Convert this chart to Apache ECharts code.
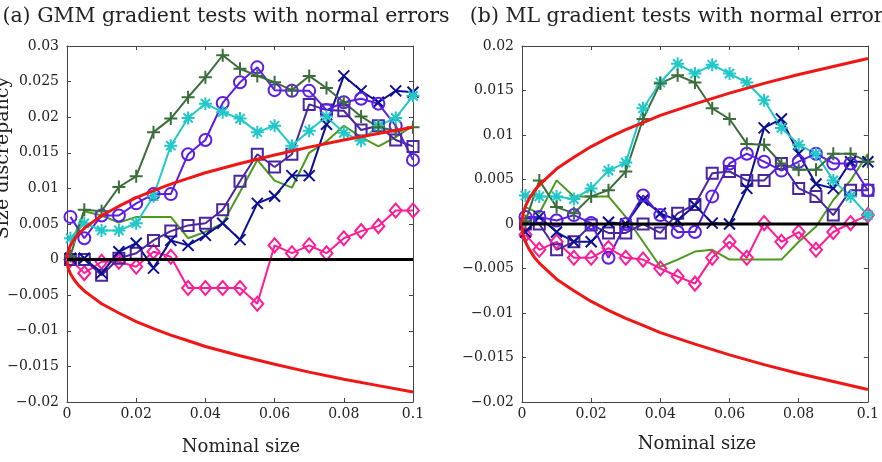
<!DOCTYPE html>
<html>
<head>
<meta charset="utf-8">
<script src="https://cdn.jsdelivr.net/npm/echarts@6/dist/echarts.min.js"></script>
<style>html,body{margin:0;padding:0;background:#fff}#c{width:882px;height:462px}</style>
</head>
<body>
<div id="c"></div>
<script>
// ---------- data ----------
const xs = [0.001, 0.005, 0.01, 0.015, 0.02, 0.025, 0.03, 0.035, 0.04, 0.045, 0.05,
            0.055, 0.06, 0.065, 0.07, 0.075, 0.08, 0.085, 0.09, 0.095, 0.1];

// (a) GMM gradient tests
const gmmPlus    = [0.0005, 0.007, 0.0068, 0.0102, 0.0117, 0.0179, 0.0198, 0.0228, 0.0256, 0.0287, 0.0268, 0.0258, 0.0249, 0.0238, 0.0258, 0.0241, 0.0221, 0.0201, 0.0186, 0.0181, 0.0186];
const gmmStar    = [0.003, 0.0051, 0.0041, 0.0041, 0.0051, 0.0089, 0.016, 0.0199, 0.0219, 0.0207, 0.0198, 0.0179, 0.0188, 0.016, 0.0181, 0.0201, 0.0178, 0.0167, 0.0188, 0.0199, 0.023];
const gmmCircle  = [0.006, 0.003, 0.0062, 0.0062, 0.0079, 0.0092, 0.0092, 0.0148, 0.0168, 0.022, 0.0249, 0.027, 0.0238, 0.0237, 0.0237, 0.021, 0.0221, 0.0226, 0.0219, 0.0188, 0.014];
const gmmCross   = [0.0002, 0.0002, -0.0019, 0.0011, 0.0023, -0.0012, 0.0027, 0.002, 0.0034, 0.0051, 0.0028, 0.0079, 0.0089, 0.0118, 0.0118, 0.019, 0.0258, 0.0237, 0.0221, 0.0237, 0.0235];
const gmmSquare  = [0.0, 0.0, -0.0022, 0.0002, 0.0009, 0.0027, 0.004, 0.0048, 0.0051, 0.007, 0.011, 0.0148, 0.013, 0.0148, 0.0218, 0.021, 0.0209, 0.0182, 0.0188, 0.0168, 0.0159];
const gmmGreen   = [0.002, 0.0068, 0.0062, 0.0052, 0.006, 0.006, 0.006, 0.003, 0.0039, 0.0051, 0.0095, 0.014, 0.0111, 0.0101, 0.015, 0.0166, 0.0188, 0.0172, 0.0159, 0.0172, 0.0188];
const gmmDiamond = [0.0, -0.0019, -0.0003, -0.0003, -0.001, 0.0011, 0.0004, -0.004, -0.004, -0.004, -0.004, -0.0062, 0.002, 0.0009, 0.002, 0.0009, 0.003, 0.004, 0.0047, 0.0069, 0.0069];

// (b) ML gradient tests
const mlPlus    = [0.0003, 0.0049, 0.0019, 0.0012, 0.0031, 0.0038, 0.0059, 0.0118, 0.0158, 0.0167, 0.0159, 0.013, 0.0118, 0.009, 0.0089, 0.0068, 0.0061, 0.0061, 0.0079, 0.0079, 0.007];
const mlStar    = [0.0032, 0.0031, 0.0031, 0.0028, 0.004, 0.006, 0.0069, 0.013, 0.0159, 0.018, 0.0169, 0.0179, 0.0169, 0.0159, 0.0139, 0.0108, 0.0089, 0.0079, 0.0049, 0.0031, 0.001];
const mlCircle  = [0.0008, 0.0008, 0.0004, 0.001, 0.0001, -0.0038, 0.0, 0.0032, 0.001, -0.0009, -0.0009, 0.0031, 0.0068, 0.0079, 0.007, 0.006, 0.007, 0.0079, 0.0068, 0.0068, 0.0038];
const mlCross   = [-0.0009, 0.0008, -0.0009, -0.002, -0.002, 0.0002, 0.0, 0.0027, 0.0012, 0.0004, 0.0021, 0.0001, 0.0, 0.004, 0.0108, 0.0118, 0.0079, 0.0045, 0.004, 0.007, 0.007];
const mlSquare  = [0.0, 0.0, -0.0029, -0.002, -0.0001, -0.001, -0.001, 0.0, -0.001, 0.0012, 0.0022, 0.0057, 0.0059, 0.0049, 0.0049, 0.0068, 0.004, 0.0031, 0.001, 0.0038, 0.0038];
const mlGreen   = [0.0019, 0.0012, 0.0049, 0.0031, 0.0031, 0.0031, 0.0008, -0.002, -0.0048, -0.004, -0.0031, -0.0029, -0.004, -0.004, -0.004, -0.004, -0.002, -0.0003, 0.0027, 0.0049, 0.0079];
const mlDiamond = [-0.0012, -0.0029, -0.002, -0.0038, -0.0038, -0.0027, -0.0038, -0.004, -0.005, -0.0059, -0.0067, -0.0038, -0.002, -0.0038, 0.0001, -0.002, -0.0009, -0.0029, -0.0009, 0.0001, 0.001];

// red confidence band (upper half; lower half is its mirror)
const bandX = [0, 0.0001, 0.0003, 0.0006, 0.001, 0.002, 0.0035, 0.005, 0.0075, 0.01, 0.015, 0.02, 0.025, 0.03, 0.035, 0.04, 0.05, 0.06, 0.07, 0.08, 0.09, 0.1];
const bandY = [0, 0.0006, 0.0011, 0.0015, 0.002, 0.0028, 0.0037, 0.0044, 0.0053, 0.0062, 0.0075, 0.0087, 0.0097, 0.0106, 0.0114, 0.0122, 0.0135, 0.0147, 0.0158, 0.0168, 0.0177, 0.0186];

// tick labels
const xTickLabels = ['0', '0.02', '0.04', '0.06', '0.08', '0.1'];
const yTickLabelsA = ['\u22120.02', '\u22120.015', '\u22120.01', '\u22120.005', '0', '0.005', '0.01', '0.015', '0.02', '0.025', '0.03'];
const yTickLabelsB = ['\u22120.02', '\u22120.015', '\u22120.01', '\u22120.005', '0', '0.005', '0.01', '0.015', '0.02'];

// ---------- chart ----------
const FONT = 'DejaVu Serif';
const COL = {
  plus: '#3b6e3b', star: '#22c8c8', circle: '#5a1ee6', cross: '#0c1090',
  square: '#4a269e', green: '#4c9a1c', diamond: '#ff1c96', red: '#f01616'
};
const SYM = {
  plus: 'path://M5 0L5 10M0 5L10 5',
  cross: 'path://M0 0L10 10M10 0L0 10',
  star: 'path://M5 0L5 10M0 5L10 5M1.46 1.46L8.54 8.54M8.54 1.46L1.46 8.54',
  circle: 'path://M10 5A5 5 0 1 1 0 5A5 5 0 1 1 10 5Z',
  square: 'path://M0 0L10 0L10 10L0 10Z',
  diamond: 'path://M5 0L10 5L5 10L0 5Z'
};
const SIZE = { plus: 13, cross: 11, star: 13, circle: 12, square: 11, diamond: [12, 14] };

function zip(xv, yv) { return xv.map((x, i) => [x, yv[i]]); }

function markSeries(panel, key, vals) {
  return {
    type: 'line', xAxisIndex: panel * 2, yAxisIndex: panel * 2,
    data: zip(xs, vals), symbol: SYM[key], symbolSize: SIZE[key], showSymbol: true,
    lineStyle: { color: COL[key], width: 2 },
    itemStyle: { color: 'rgba(0,0,0,0)', borderColor: COL[key], borderWidth: 2 },
    emphasis: { disabled: true }, silent: true, z: 2
  };
}
function plainSeries(panel, color, data, width, z) {
  return {
    type: 'line', xAxisIndex: panel * 2, yAxisIndex: panel * 2, data: data,
    symbol: 'none', lineStyle: { color: color, width: width }, silent: true, z: z,
    emphasis: { disabled: true }
  };
}

function xAxes(grid) {
  const base = { type: 'value', gridIndex: grid, min: 0, max: 0.1, interval: 0.02,
    splitLine: { show: false },
    axisLine: { show: true, onZero: false, lineStyle: { color: '#444', width: 1 } },
    axisTick: { show: true, inside: true, length: 4, lineStyle: { color: '#444' } } };
  return [
    Object.assign({}, base, { position: 'bottom',
      axisLabel: { show: true, margin: 5, fontFamily: FONT, fontSize: 14, color: '#222',
        formatter: v => xTickLabels[Math.round(v / 0.02)] } }),
    Object.assign({}, base, { position: 'top', axisLabel: { show: false } })
  ];
}
function yAxes(grid, min, max, labels) {
  const base = { type: 'value', gridIndex: grid, min: min, max: max, interval: 0.005,
    splitLine: { show: false },
    axisLine: { show: true, onZero: false, lineStyle: { color: '#444', width: 1 } },
    axisTick: { show: true, inside: true, length: 4, lineStyle: { color: '#444' } } };
  return [
    Object.assign({}, base, { position: 'left',
      axisLabel: { show: true, margin: 8, fontFamily: FONT, fontSize: 14, color: '#222',
        formatter: v => labels[Math.round((v - min) / 0.005)] } }),
    Object.assign({}, base, { position: 'right', axisLabel: { show: false } })
  ];
}

const series = [];
const panels = [
  [gmmPlus, gmmStar, gmmCircle, gmmCross, gmmSquare, gmmGreen, gmmDiamond],
  [mlPlus, mlStar, mlCircle, mlCross, mlSquare, mlGreen, mlDiamond]
];
panels.forEach((p, i) => {
  series.push(plainSeries(i, COL.green, zip(xs, p[5]), 2, 2));
  series.push(markSeries(i, 'diamond', p[6]));
  series.push(markSeries(i, 'square', p[4]));
  series.push(markSeries(i, 'cross', p[3]));
  series.push(markSeries(i, 'circle', p[2]));
  series.push(markSeries(i, 'star', p[1]));
  series.push(markSeries(i, 'plus', p[0]));
  series.push(plainSeries(i, COL.red, zip(bandX, bandY), 3, 3));
  series.push(plainSeries(i, COL.red, zip(bandX, bandY.map(v => -v)), 3, 3));
  series.push(plainSeries(i, '#000', [[0, 0], [0.1, 0]], 3, 4));
});

const chart = echarts.init(document.getElementById('c'), null, { renderer: 'canvas' });
chart.setOption({
  animation: false,
  backgroundColor: '#fff',
  grid: [
    { left: 67, top: 46, width: 346, height: 356 },
    { left: 522, top: 46, width: 348, height: 356 }
  ],
  xAxis: [...xAxes(0), ...xAxes(1)],
  yAxis: [...yAxes(0, -0.02, 0.03, yTickLabelsA), ...yAxes(1, -0.02, 0.02, yTickLabelsB)],
  series: series,
  graphic: [
    { type: 'text', x: 226, y: 17, style: { text: '(a) GMM gradient tests with normal errors', fontFamily: FONT, fontSize: 20.5, fill: '#222', textAlign: 'center', textVerticalAlign: 'middle' } },
    { type: 'text', x: 682, y: 17, style: { text: '(b) ML gradient tests with normal errors', fontFamily: FONT, fontSize: 20.5, fill: '#222', textAlign: 'center', textVerticalAlign: 'middle' } },
    { type: 'text', x: 241, y: 447, style: { text: 'Nominal size', fontFamily: FONT, fontSize: 18, fill: '#222', textAlign: 'center', textVerticalAlign: 'middle' } },
    { type: 'text', x: 697, y: 444, style: { text: 'Nominal size', fontFamily: FONT, fontSize: 18, fill: '#222', textAlign: 'center', textVerticalAlign: 'middle' } },
    { type: 'text', x: 3, y: 158, rotation: Math.PI / 2, style: { text: 'Size discrepancy', fontFamily: FONT, fontSize: 19, fill: '#222', textAlign: 'center', textVerticalAlign: 'middle' } }
  ]
});
</script>
</body>
</html>
